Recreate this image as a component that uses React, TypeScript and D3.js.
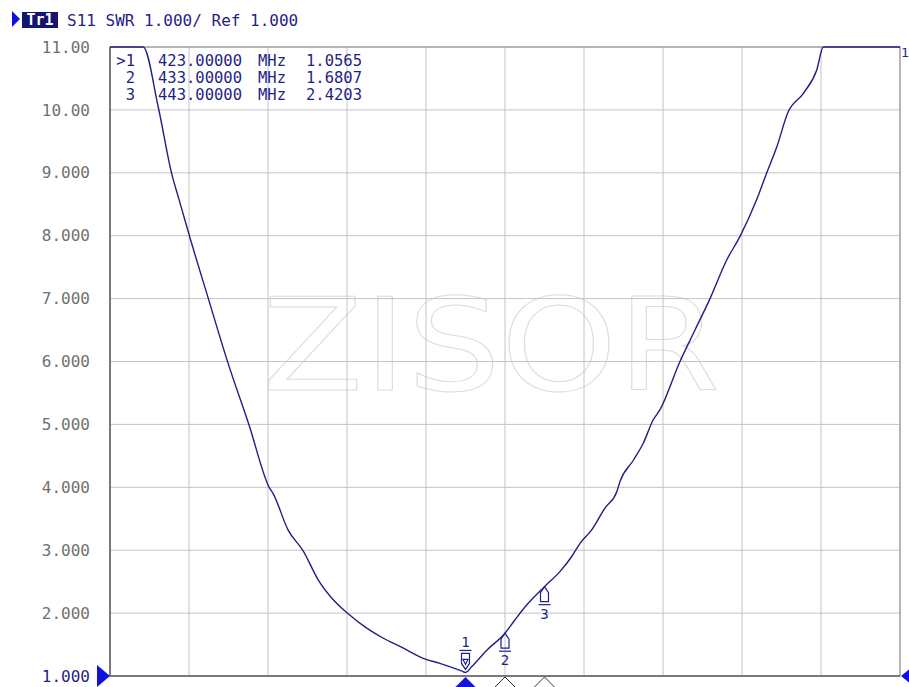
import React from 'react';
import * as d3 from 'd3';

// trace S11 SWR
const freqMHz = [
  333, 341.4, 345.2, 348.6, 350.5, 353.1, 357.9, 362.8, 368.2, 373.3, 374.3,
  378.1, 381.9, 385.7, 390.0, 393.3, 398.0, 402.2, 406.4, 412.3, 416.5, 422.0,
  423, 424.6, 428.4, 433, 435.5, 438.1, 443, 446.9, 449.9, 452.0, 454.9, 458.3,
  461.3, 462.1, 465.5, 468.0, 470.5, 472.2, 477.3, 481.1, 484.9, 489.1, 492.5,
  496.7, 499.2, 501.8, 504.7, 508.5, 511.9, 513.6, 533,
];
const swr = [
  11, 11, 10.05, 8.99, 8.57, 8.0, 7.0, 5.99, 4.99, 4.0, 3.9,
  3.32, 2.99, 2.53, 2.18, 1.99, 1.76, 1.6, 1.47, 1.28, 1.2, 1.08,
  1.0565, 1.15, 1.41, 1.6807, 1.89, 2.1, 2.4203, 2.66, 2.9, 3.11, 3.32, 3.67,
  3.93, 4.09, 4.43, 4.7, 5.07, 5.23, 6.0, 6.5, 7.0, 7.61, 7.99,
  8.57, 8.99, 9.41, 9.97, 10.26, 10.63, 11, 11,
];

const yTickLabels = ['1.000', '2.000', '3.000', '4.000', '5.000', '6.000', '7.000', '8.000', '9.000', '10.00', '11.00'];

const markerIds = ['1', '2', '3'];
const markerFreqs = [423, 433, 443];
const markerValues = [1.0565, 1.6807, 2.4203];
const activeMarker = '1';

const NAVY = '#1f1f86';
const MONO = '"DejaVu Sans Mono", monospace';

export default function App() {
  const width = 909;
  const height = 687;
  const left = 110, right = 900, top = 47, bottom = 676;

  const x = d3.scaleLinear().domain([333, 533]).range([left, right]);
  const y = d3.scaleLinear().domain([1, 11]).range([bottom, top]);

  const pts = freqMHz.map((f, i) => [f, swr[i]] as [number, number]);
  const line = d3.line<[number, number]>()
    .x(d => x(d[0]))
    .y(d => y(d[1]))
    .curve(d3.curveMonotoneX);

  const xGrid = d3.range(0, 11).map(i => 333 + i * 20);
  const yGrid = d3.range(1, 12);

  return (
    <svg width={width} height={height} style={{ position: 'absolute', left: 0, top: 0, background: '#fff' }}>
      <defs>
        <clipPath id="plot">
          <rect x={left} y={top - 1} width={right - left} height={bottom - top + 2} />
        </clipPath>
      </defs>

      {/* header */}
      <path d="M 12 11 L 20 19 L 12 27 Z" fill="#1010e0" />
      <rect x={22} y={12} width={36} height={16} fill="#151570" />
      <text x={40} y={25} textAnchor="middle" fontFamily={MONO} fontSize={15} fontWeight="bold" fill="#fff">Tr1</text>
      <text x={67} y={26} fontFamily={MONO} fontSize={16} fill={NAVY}>S11 SWR 1.000/ Ref 1.000</text>

      {/* watermark */}
      <text x={262} y={390} fontFamily='"DejaVu Sans", sans-serif' fontSize={128} fill="none"
        stroke="#dcdcdc" strokeWidth={1} textLength={458} lengthAdjust="spacingAndGlyphs">ZISOR</text>

      {/* grid */}
      {xGrid.map((f, i) => (
        <line key={'gx' + i} x1={x(f)} x2={x(f)} y1={top} y2={bottom} stroke="#c4c4c4" strokeWidth={1} />
      ))}
      {yGrid.map((v, i) => (
        <line key={'gy' + i} x1={left} x2={right} y1={y(v)} y2={y(v)} stroke="#c4c4c4" strokeWidth={1} />
      ))}
      <rect x={left} y={top} width={right - left} height={bottom - top} fill="none" stroke="#8a8a8a" strokeWidth={1} />
      <line x1={left} x2={right} y1={bottom} y2={bottom} stroke="#666" strokeWidth={1.5} />
      <line x1={left} x2={left} y1={top} y2={bottom} stroke="#666" strokeWidth={1.5} />

      {/* y labels */}
      {yGrid.map((v, i) => (
        <text key={'yl' + i} x={90} y={y(v)} dy="0.35em" textAnchor="end" fontFamily={MONO} fontSize={16}
          fill={v === 1 ? NAVY : '#707070'}>{yTickLabels[i]}</text>
      ))}

      {/* trace */}
      <path d={line(pts) || ''} fill="none" stroke={NAVY} strokeWidth={1.4} clipPath="url(#plot)" />

      {/* marker table */}
      {markerIds.map((id, i) => (
        <g key={'mt' + id} fontFamily={MONO} fontSize={15.5} fill={NAVY}>
          <text x={135} y={61 + i * 16.7} dy="0.35em" textAnchor="end">{(id === activeMarker ? '>' : '') + id}</text>
          <text x={158} y={61 + i * 16.7} dy="0.35em">{markerFreqs[i].toFixed(5)}</text>
          <text x={258} y={61 + i * 16.7} dy="0.35em">MHz</text>
          <text x={306} y={61 + i * 16.7} dy="0.35em">{markerValues[i].toFixed(4)}</text>
        </g>
      ))}

      {/* markers on trace */}
      {markerIds.map((id, i) => {
        const mx = x(markerFreqs[i]);
        const my = y(markerValues[i]);
        if (id === activeMarker) {
          return (
            <g key={'mk' + id} stroke={NAVY} fill="none" strokeWidth={1.2}>
              <text x={mx} y={my - 25} textAnchor="middle" fontFamily={MONO} fontSize={14} fill={NAVY} stroke="none">{id}</text>
              <line x1={mx - 6} x2={mx + 6} y1={my - 22} y2={my - 22} />
              <path d={`M ${mx - 4} ${my - 19} L ${mx + 4} ${my - 19} L ${mx + 4} ${my - 9} L ${mx} ${my - 3} L ${mx - 4} ${my - 9} Z`} />
              <path d={`M ${mx - 2.5} ${my - 13} L ${mx + 2.5} ${my - 13} L ${mx} ${my - 8} Z`} />
            </g>
          );
        }
        return (
          <g key={'mk' + id} stroke={NAVY} fill="none" strokeWidth={1.2}>
            <path d={`M ${mx} ${my} L ${mx + 4} ${my + 6} L ${mx + 4} ${my + 15} L ${mx - 4} ${my + 15} L ${mx - 4} ${my + 6} Z`} />
            <line x1={mx - 6} x2={mx + 6} y1={my + 18} y2={my + 18} />
            <text x={mx} y={my + 32} textAnchor="middle" fontFamily={MONO} fontSize={14} fill={NAVY} stroke="none">{id}</text>
          </g>
        );
      })}

      {/* stimulus markers along the bottom */}
      {markerIds.map((id, i) => {
        const mx = x(markerFreqs[i]);
        const cy = bottom + 13;
        const d = `M ${mx} ${cy - 12} L ${mx + 12} ${cy} L ${mx} ${cy + 12} L ${mx - 12} ${cy} Z`;
        return id === activeMarker
          ? <path key={'sm' + id} d={d} fill="#1414d8" />
          : <path key={'sm' + id} d={d} fill="#fff" stroke="#333" strokeWidth={1} />;
      })}

      {/* reference position arrows */}
      <path d={`M ${left - 13} ${bottom - 11} L ${left} ${bottom} L ${left - 13} ${bottom + 11} Z`} fill="#1010e0" />
      <path d={`M ${right + 11} ${bottom - 8} L ${right + 1} ${bottom} L ${right + 11} ${bottom + 8} Z`} fill="#1010e0" />
      <text x={901} y={57} fontFamily={MONO} fontSize={13} fill={NAVY}>1</text>
    </svg>
  );
}
